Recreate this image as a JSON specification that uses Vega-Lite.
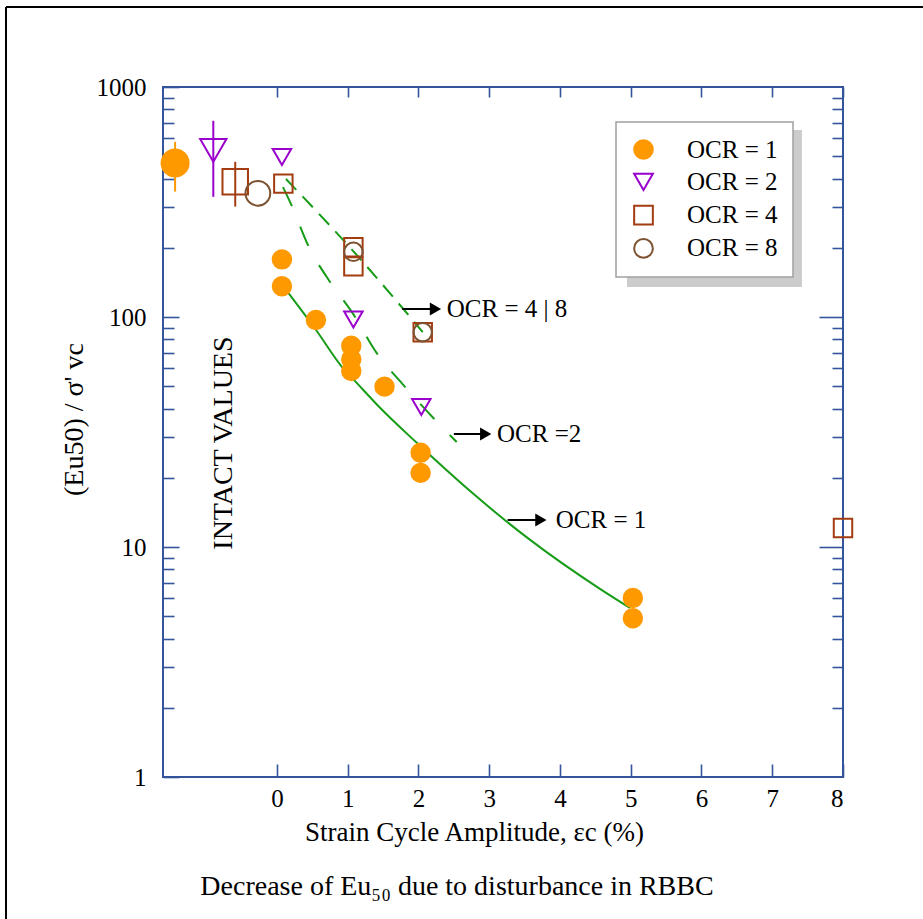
{
  "$schema": "https://vega.github.io/schema/vega-lite/v6.json",
  "width": 680,
  "height": 690,
  "autosize": {"type": "none"},
  "padding": {"left": 163, "top": 87, "right": 80, "bottom": 142},
  "background": "white",
  "config": {
    "font": "Liberation Serif",
    "view": {"stroke": "#34559b", "strokeWidth": 2},
    "axis": {
      "domain": false,
      "grid": false,
      "tickColor": "#34559b",
      "tickWidth": 1.6,
      "labelFont": "Liberation Serif",
      "labelFontSize": 25,
      "labelColor": "black",
      "titleFont": "Liberation Serif",
      "titleFontSize": 27,
      "titleFontWeight": "normal",
      "titleColor": "black"
    },
    "legend": {
      "labelFont": "Liberation Serif",
      "labelFontSize": 25,
      "labelColor": "black",
      "padding": 15,
      "rowPadding": 6.3,
      "labelOffset": 31,
      "symbolSize": 350,
      "symbolStrokeWidth": 2,
      "strokeColor": "#a0a0a0",
      "strokeWidth": 1.5,
      "fillColor": "white"
    }
  },
  "title": {
    "text": "Decrease of Eu₅₀ due to disturbance in RBBC",
    "orient": "bottom",
    "anchor": "middle",
    "frame": "group",
    "dx": -46,
    "offset": -47,
    "font": "Liberation Serif",
    "fontSize": 28,
    "fontWeight": "normal",
    "color": "black"
  },
  "datasets": {
    "page": [
      {"x0": -3.83, "x1": 12, "y0": 2227, "y1": 2227},
      {"x0": -3.83, "x1": -3.83, "y0": 2227, "y1": 0.2415}
    ],
    "shade": [{"x0": 4.947, "x1": 7.42, "y0": 135, "y1": 650}],
    "measured": [
      {"ocr": "OCR = 1", "strain": 0.07, "ratio": 178},
      {"ocr": "OCR = 1", "strain": 0.07, "ratio": 136},
      {"ocr": "OCR = 1", "strain": 0.55, "ratio": 97},
      {"ocr": "OCR = 1", "strain": 1.05, "ratio": 75},
      {"ocr": "OCR = 1", "strain": 1.05, "ratio": 65.5},
      {"ocr": "OCR = 1", "strain": 1.05, "ratio": 58.2},
      {"ocr": "OCR = 1", "strain": 1.52, "ratio": 49.8},
      {"ocr": "OCR = 1", "strain": 2.03, "ratio": 25.7},
      {"ocr": "OCR = 1", "strain": 2.03, "ratio": 21.0},
      {"ocr": "OCR = 1", "strain": 5.03, "ratio": 6.0},
      {"ocr": "OCR = 1", "strain": 5.03, "ratio": 4.9},
      {"ocr": "OCR = 2", "strain": 0.07, "ratio": 496},
      {"ocr": "OCR = 2", "strain": 1.08, "ratio": 97.6},
      {"ocr": "OCR = 2", "strain": 2.04, "ratio": 40.6},
      {"ocr": "OCR = 4", "strain": 0.09, "ratio": 380},
      {"ocr": "OCR = 4", "strain": 1.08, "ratio": 201},
      {"ocr": "OCR = 4", "strain": 1.08, "ratio": 166},
      {"ocr": "OCR = 4", "strain": 2.06, "ratio": 85.8},
      {"ocr": "OCR = 4", "strain": 8.0, "ratio": 12.1},
      {"ocr": "OCR = 8", "strain": 1.08, "ratio": 192},
      {"ocr": "OCR = 8", "strain": 2.06, "ratio": 85.8}
    ],
    "intact": [
      {"ocr": "OCR = 1", "strain": -1.44, "ratio": 467, "lo": 351, "hi": 578},
      {"ocr": "OCR = 2", "strain": -0.9, "ratio": 530, "lo": 333, "hi": 713},
      {"ocr": "OCR = 4", "strain": -0.59, "ratio": 387, "lo": 302, "hi": 473},
      {"ocr": "OCR = 8", "strain": -0.27, "ratio": 345}
    ],
    "trend": [
      {"curve": "OCR = 1", "strain": 0.155, "ratio": 128},
      {"curve": "OCR = 1", "strain": 0.55, "ratio": 88},
      {"curve": "OCR = 1", "strain": 0.92, "ratio": 60.6},
      {"curve": "OCR = 1", "strain": 1.13, "ratio": 51.6},
      {"curve": "OCR = 1", "strain": 1.46, "ratio": 40.2},
      {"curve": "OCR = 1", "strain": 1.98, "ratio": 28.3},
      {"curve": "OCR = 1", "strain": 2.73, "ratio": 17.5},
      {"curve": "OCR = 1", "strain": 3.55, "ratio": 10.9},
      {"curve": "OCR = 1", "strain": 4.57, "ratio": 6.56},
      {"curve": "OCR = 1", "strain": 4.99, "ratio": 5.43},
      {"curve": "OCR = 2", "strain": 0.085, "ratio": 367},
      {"curve": "OCR = 2", "strain": 0.21, "ratio": 304},
      {"curve": "OCR = 2", "strain": 0.44, "ratio": 205},
      {"curve": "OCR = 2", "strain": 0.75, "ratio": 142},
      {"curve": "OCR = 2", "strain": 1.06, "ratio": 105},
      {"curve": "OCR = 2", "strain": 1.41, "ratio": 69.7},
      {"curve": "OCR = 2", "strain": 1.8, "ratio": 50.1},
      {"curve": "OCR = 2", "strain": 2.21, "ratio": 36.4},
      {"curve": "OCR = 2", "strain": 2.54, "ratio": 28.6},
      {"curve": "OCR = 4|8", "strain": 0.127, "ratio": 398},
      {"curve": "OCR = 4|8", "strain": 1.074, "ratio": 194},
      {"curve": "OCR = 4|8", "strain": 2.06, "ratio": 86}
    ],
    "notes": [
      {"label": "OCR = 4 | 8", "x0": 1.77, "x1": 2.24, "tx": 2.4, "ratio": 108.4},
      {"label": "OCR =2", "x0": 2.5, "x1": 2.95, "tx": 3.11, "ratio": 31.0},
      {"label": "OCR = 1", "x0": 3.26, "x1": 3.73, "tx": 3.94, "ratio": 13.1}
    ]
  },
  "resolve": {"axis": {"x": "independent", "y": "independent"}},
  "layer": [
    {
      "data": {"name": "page"},
      "mark": {"type": "rule", "color": "black", "strokeWidth": 2, "clip": false},
      "encoding": {
        "x": {
          "field": "x0", "type": "quantitative",
          "scale": {"domain": [-1.611, 8], "nice": false, "zero": false},
          "axis": {
            "orient": "bottom",
            "values": [0, 1, 2, 3, 4, 5, 6, 7, 8],
            "format": "d",
            "tickSize": -13,
            "labelPadding": 22,
            "title": "Strain Cycle Amplitude, εc (%)",
            "titleX": 311,
            "titleY": 55,
            "titleBaseline": "middle"
          }
        },
        "x2": {"field": "x1"},
        "y": {
          "field": "y0", "type": "quantitative",
          "scale": {"type": "log", "domain": [1, 1000], "nice": false},
          "axis": {
            "orient": "left",
            "values": [1, 10, 100, 1000],
            "format": "d",
            "tickSize": -16,
            "labelPadding": 33,
            "labelBaseline": "middle",
            "title": "(Eu50) / σ' vc",
            "titleFontSize": 28,
            "titleX": -89,
            "titleY": 332,
            "titleBaseline": "middle"
          }
        },
        "y2": {"field": "y1"}
      }
    },
    {
      "data": {"name": "shade"},
      "mark": {"type": "rect", "fill": "#cccccc"},
      "encoding": {
        "x": {
          "field": "x0", "type": "quantitative",
          "axis": {"orient": "top", "values": [0, 1, 2, 3, 4, 5, 6, 7, 8], "tickSize": -10, "labels": false, "title": null}
        },
        "x2": {"field": "x1"},
        "y": {
          "field": "y0", "type": "quantitative",
          "axis": {
            "orient": "left",
            "values": [2, 3, 4, 5, 6, 7, 8, 9, 20, 30, 40, 50, 60, 70, 80, 90, 200, 300, 400, 500, 600, 700, 800, 900],
            "tickSize": -11, "labels": false, "title": null
          }
        },
        "y2": {"field": "y1"}
      }
    },
    {
      "data": {"name": "intact"},
      "transform": [{"filter": "datum.ocr === 'OCR = 1'"}],
      "mark": {"type": "rule", "color": "#ff9900", "strokeWidth": 2},
      "encoding": {
        "x": {"field": "strain", "type": "quantitative", "axis": null},
        "y": {
          "field": "lo", "type": "quantitative",
          "axis": {"orient": "right", "values": [10, 100], "tickSize": -24, "labels": false, "title": null}
        },
        "y2": {"field": "hi"}
      }
    },
    {
      "data": {"name": "intact"},
      "transform": [{"filter": "datum.ocr === 'OCR = 2'"}],
      "mark": {"type": "rule", "color": "#9900cc", "strokeWidth": 2},
      "encoding": {
        "x": {"field": "strain", "type": "quantitative", "axis": null},
        "y": {
          "field": "lo", "type": "quantitative",
          "axis": {
            "orient": "right",
            "values": [2, 3, 4, 5, 6, 7, 8, 9, 20, 30, 40, 50, 60, 70, 80, 90, 200, 300, 400, 500, 600, 700, 800, 900],
            "tickSize": -11, "labels": false, "title": null
          }
        },
        "y2": {"field": "hi"}
      }
    },
    {
      "data": {"name": "intact"},
      "transform": [{"filter": "datum.ocr === 'OCR = 4'"}],
      "mark": {"type": "rule", "color": "#a33c10", "strokeWidth": 2},
      "encoding": {
        "x": {"field": "strain", "type": "quantitative", "axis": null},
        "y": {"field": "lo", "type": "quantitative", "axis": null},
        "y2": {"field": "hi"}
      }
    },
    {
      "data": {"name": "trend"},
      "transform": [{"filter": "datum.curve === 'OCR = 1'"}],
      "mark": {"type": "line", "color": "#169c16", "strokeWidth": 2, "interpolate": "monotone"},
      "encoding": {
        "x": {"field": "strain", "type": "quantitative", "axis": null},
        "y": {"field": "ratio", "type": "quantitative", "axis": null}
      }
    },
    {
      "data": {"name": "trend"},
      "transform": [{"filter": "datum.curve === 'OCR = 2'"}],
      "mark": {"type": "line", "color": "#169c16", "strokeWidth": 2, "strokeDash": [21, 22], "interpolate": "monotone"},
      "encoding": {
        "x": {"field": "strain", "type": "quantitative", "axis": null},
        "y": {"field": "ratio", "type": "quantitative", "axis": null}
      }
    },
    {
      "data": {"name": "trend"},
      "transform": [{"filter": "datum.curve === 'OCR = 4|8'"}],
      "mark": {"type": "line", "color": "#169c16", "strokeWidth": 2, "strokeDash": [15, 9], "interpolate": "monotone"},
      "encoding": {
        "x": {"field": "strain", "type": "quantitative", "axis": null},
        "y": {"field": "ratio", "type": "quantitative", "axis": null}
      }
    },
    {
      "data": {"name": "measured"},
      "mark": {"type": "point", "filled": false, "strokeWidth": 2, "size": 340, "opacity": 1},
      "encoding": {
        "x": {"field": "strain", "type": "quantitative", "axis": null},
        "y": {"field": "ratio", "type": "quantitative", "axis": null},
        "shape": {
          "field": "ocr", "type": "nominal",
          "scale": {"domain": ["OCR = 1", "OCR = 2", "OCR = 4", "OCR = 8"], "range": ["circle", "triangle-down", "square", "circle"]}
        },
        "color": {
          "field": "ocr", "type": "nominal",
          "scale": {"domain": ["OCR = 1", "OCR = 2", "OCR = 4", "OCR = 8"], "range": ["#ff9900", "#9900cc", "#a33c10", "#7d5230"]},
          "legend": {"orient": "none", "legendX": 453, "legendY": 35, "title": null}
        },
        "fill": {
          "field": "ocr", "type": "nominal",
          "scale": {"domain": ["OCR = 1", "OCR = 2", "OCR = 4", "OCR = 8"], "range": ["#ff9900", "transparent", "transparent", "transparent"]}
        }
      }
    },
    {
      "data": {"name": "intact"},
      "mark": {"type": "point", "filled": false, "strokeWidth": 2, "opacity": 1},
      "encoding": {
        "x": {"field": "strain", "type": "quantitative", "axis": null},
        "y": {"field": "ratio", "type": "quantitative", "axis": null},
        "shape": {"field": "ocr", "type": "nominal"},
        "color": {"field": "ocr", "type": "nominal"},
        "fill": {"field": "ocr", "type": "nominal"},
        "size": {"field": "ocr", "type": "nominal", "scale": {"range": [729, 610, 497, 692]}, "legend": null}
      }
    },
    {
      "data": {"name": "notes"},
      "mark": {"type": "rule", "color": "black", "strokeWidth": 2},
      "encoding": {
        "x": {"field": "x0", "type": "quantitative", "axis": null},
        "x2": {"field": "x1"},
        "y": {"field": "ratio", "type": "quantitative", "axis": null}
      }
    },
    {
      "data": {"name": "notes"},
      "mark": {"type": "point", "shape": "triangle-right", "filled": true, "color": "black", "size": 169, "opacity": 1},
      "encoding": {
        "x": {"field": "x1", "type": "quantitative", "axis": null},
        "y": {"field": "ratio", "type": "quantitative", "axis": null}
      }
    },
    {
      "data": {"name": "notes"},
      "mark": {"type": "text", "align": "left", "baseline": "middle", "fontSize": 25, "font": "Liberation Serif", "color": "black"},
      "encoding": {
        "x": {"field": "tx", "type": "quantitative", "axis": null},
        "y": {"field": "ratio", "type": "quantitative", "axis": null},
        "text": {"field": "label"}
      }
    },
    {
      "data": {"values": [{"label": "INTACT VALUES", "strain": -0.75, "ratio": 28.3}]},
      "mark": {"type": "text", "angle": 270, "align": "center", "baseline": "middle", "fontSize": 28, "font": "Liberation Serif", "color": "black"},
      "encoding": {
        "x": {"field": "strain", "type": "quantitative", "axis": null},
        "y": {"field": "ratio", "type": "quantitative", "axis": null},
        "text": {"field": "label"}
      }
    }
  ]
}
